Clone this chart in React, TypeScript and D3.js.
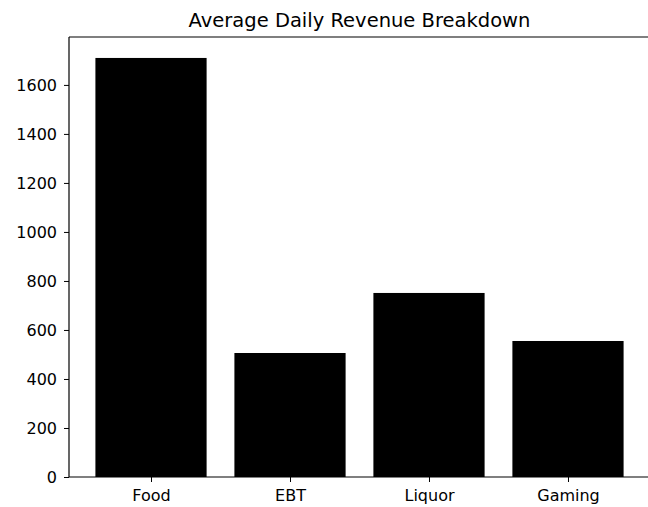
import React, { useEffect, useRef } from 'react';
import * as d3 from 'd3';

// values
const categories = ['Food', 'EBT', 'Liquor', 'Gaming'];
const revenue = [1710, 506, 751, 555];
const yTicks = [0, 200, 400, 600, 800, 1000, 1200, 1400, 1600];
const chartTitle = 'Average Daily Revenue Breakdown';

export default function App() {
    const ref = useRef<SVGSVGElement>(null);

    useEffect(() => {
        const svgWidth = 648, svgHeight = 507;
        const pad = { top: 37, bottom: 30, left: 69, right: -2 };
        const width = svgWidth - pad.left - pad.right;
        const height = svgHeight - pad.top - pad.bottom;
        const visibleW = svgWidth - pad.left;

        const svg = d3.select(ref.current)
            .attr('width', svgWidth)
            .attr('height', svgHeight)
            .style('display', 'block')
            .style('overflow', 'hidden');
        svg.selectAll('*').remove();

        const graph = svg.append('g')
            .attr('transform', 'translate(' + pad.left + ', ' + pad.top + ')');

        // bars 0.8 wide, 5% margins on each side (matplotlib style)
        const xLin = d3.scaleLinear()
            .domain([-0.59, categories.length - 1 + 0.59])
            .range([0, width]);
        const yMax = (d3.max(revenue) as number) * 1.05;
        const scaleY = d3.scaleLinear().domain([0, yMax]).range([height, 0]);

        graph.append('g')
            .selectAll('rect')
            .data(revenue)
            .enter()
                .append('rect')
                .attr('fill', '#000')
                .attr('x', (d, i) => xLin(i - 0.4))
                .attr('width', xLin(0.4) - xLin(-0.4))
                .attr('y', d => scaleY(d))
                .attr('height', d => height - scaleY(d));

        const font = 'DejaVu Sans, sans-serif';

        const yAxis = graph.append('g')
            .call(d3.axisLeft(scaleY).tickValues(yTicks).tickSize(5).tickPadding(7).tickFormat(d3.format('d')));
        const xAxis = graph.append('g')
            .attr('transform', 'translate(0,' + height + ')')
            .call(d3.axisBottom(xLin).tickValues(d3.range(categories.length)).tickSize(5).tickPadding(8)
                .tickFormat((d) => categories[d as number]));

        [yAxis, xAxis].forEach(a => {
            a.select('.domain').remove();
            a.selectAll('text').attr('font-family', font).attr('font-size', 16).attr('fill', '#000');
            a.selectAll('line').attr('stroke', '#000').attr('stroke-width', 1);
        });

        // spines: left, top, bottom (right one falls off the canvas)
        const spine = graph.append('g').attr('stroke', '#000').attr('stroke-width', 1.2);
        spine.append('line').attr('x1', 0).attr('x2', 0).attr('y1', 0).attr('y2', height);
        spine.append('line').attr('x1', 0).attr('x2', visibleW).attr('y1', 0).attr('y2', 0);
        spine.append('line').attr('x1', 0).attr('x2', visibleW).attr('y1', height).attr('y2', height);

        svg.append('text')
            .attr('x', pad.left + width / 2)
            .attr('y', 27)
            .attr('text-anchor', 'middle')
            .attr('font-family', font)
            .attr('font-size', 19.5)
            .attr('fill', '#000')
            .text(chartTitle);
    }, []);

    return (
        <div style={{ position: 'fixed', left: 0, top: 0, background: '#fff' }}>
            <svg ref={ref}></svg>
        </div>
    );
}
